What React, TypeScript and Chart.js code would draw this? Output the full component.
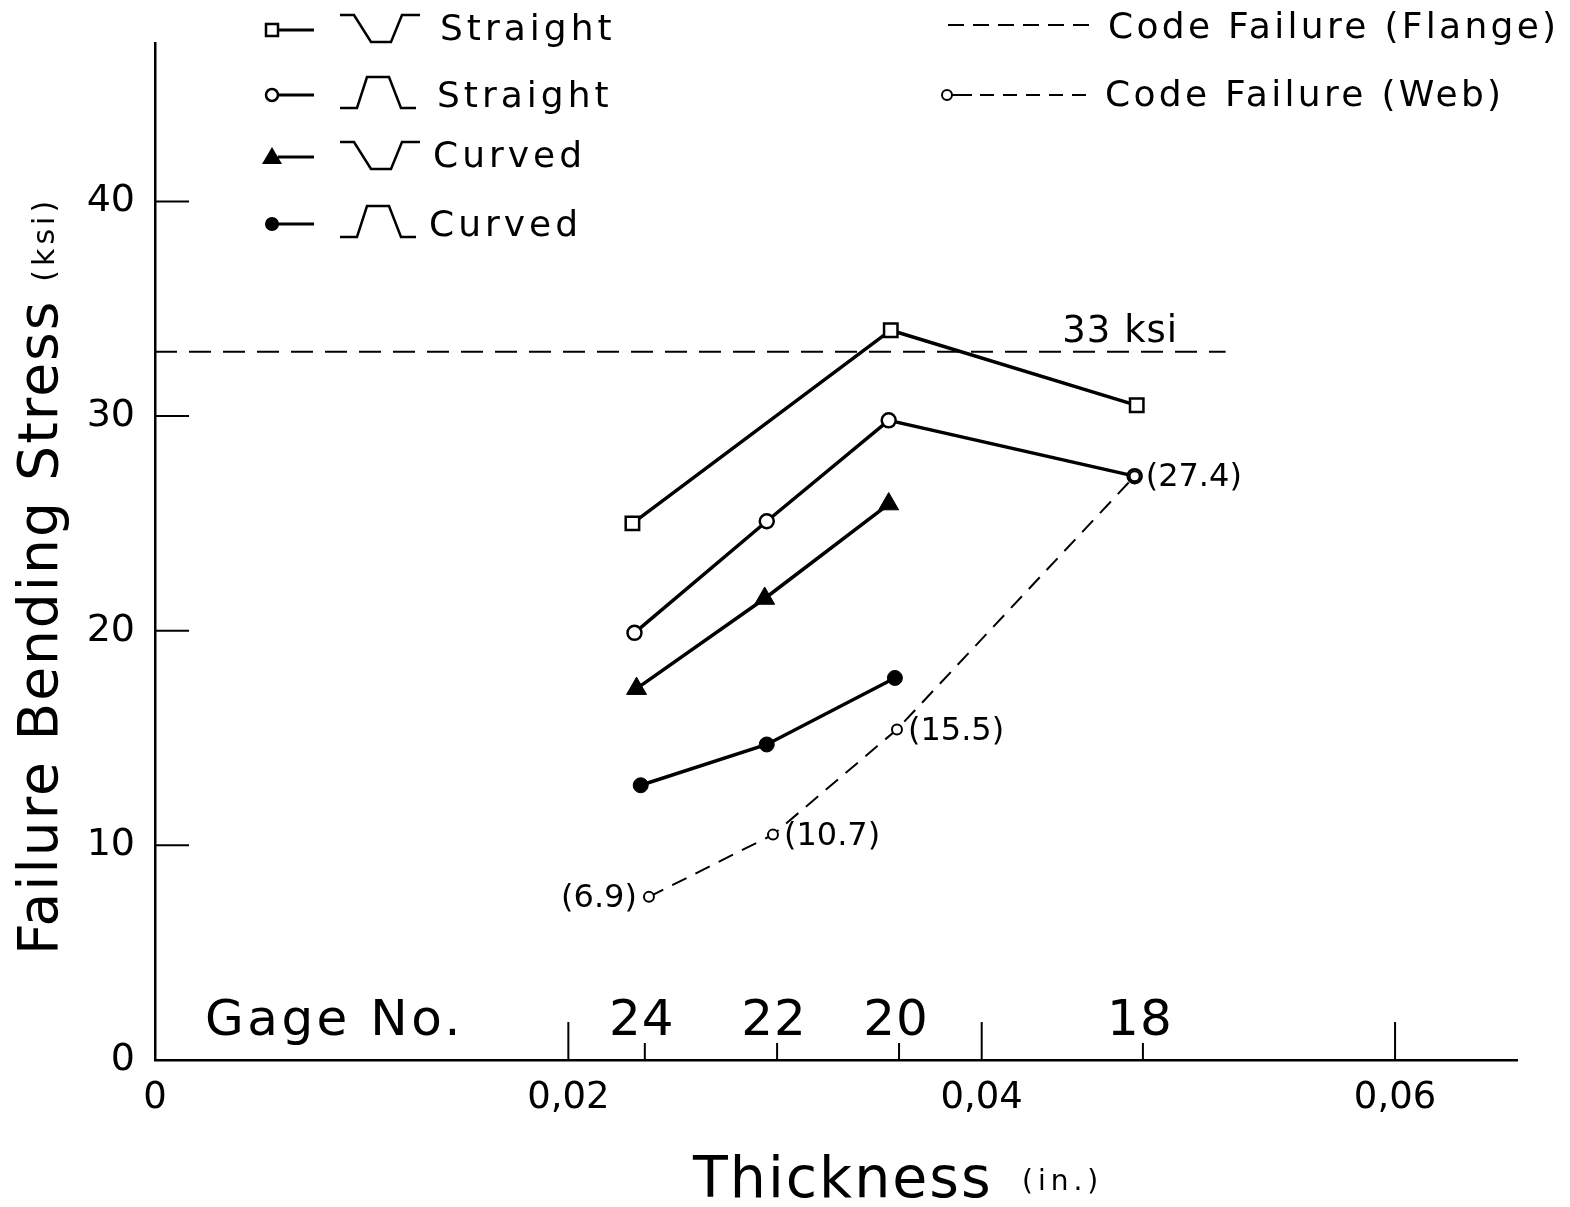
import React, { useEffect, useRef } from 'react';
import { Chart, registerables } from 'chart.js';

Chart.register(...registerables);

const FONT = '"DejaVu Sans", sans-serif';

// ---- data (thickness in inches, stress in ksi) ----
const thicknessSquare = [0.0231, 0.0356, 0.0475];
const stressSquare = [25.0, 34.0, 30.5];
const thicknessCircle = [0.0232, 0.0296, 0.0355, 0.0474];
const stressCircle = [19.9, 25.1, 29.8, 27.2];
const thicknessTriangle = [0.0233, 0.0295, 0.0355];
const stressTriangle = [17.3, 21.5, 25.9];
const thicknessDot = [0.0235, 0.0296, 0.0358];
const stressDot = [12.8, 14.7, 17.8];
const thicknessWeb = [0.0239, 0.0299, 0.0359, 0.0474];
const stressWeb = [7.6, 10.5, 15.4, 27.2];
const webLabels = ['(6.9)', '(10.7)', '(15.5)', '(27.4)'];
const webLabelSide = ['left', 'right', 'right', 'right'];
const flangeStress = 33;
const flangeRange = [0, 0.0518];
const flangeLabel = '33 ksi';
const xTicks = [0, 0.02, 0.04, 0.06];
const xTickLabels = ['0', '0,02', '0,04', '0,06'];
const yTicks = [0, 10, 20, 30, 40];
const gageThickness = [0.0237, 0.0301, 0.036, 0.0478];
const gageLabels = ['24', '22', '20', '18'];
const legendLeftLabels = ['Straight', 'Straight', 'Curved', 'Curved'];
const legendRightLabels = ['Code Failure (Flange)', 'Code Failure (Web)'];

const toPts = (xs: number[], ys: number[]) => xs.map((x, i) => ({ x, y: ys[i] }));

type Pt = [number, number];
const HAT_DOWN: Pt[] = [[0, -15], [14, -15], [31, 12], [51, 12], [62, -15], [80, -15]];
const HAT_UP: Pt[] = [[0, 13], [17, 13], [27, -18], [49, -18], [61, 13], [76, 13]];

function drawMarker(ctx: CanvasRenderingContext2D, kind: string, x: number, y: number) {
  ctx.save();
  ctx.strokeStyle = '#000';
  ctx.lineWidth = 2.5;
  ctx.beginPath();
  if (kind === 'rect') {
    ctx.fillStyle = '#fff';
    ctx.rect(x - 6, y - 6, 12, 12);
    ctx.fill();
    ctx.stroke();
  } else if (kind === 'circleOpen') {
    ctx.fillStyle = '#fff';
    ctx.arc(x, y, 6, 0, Math.PI * 2);
    ctx.fill();
    ctx.stroke();
  } else if (kind === 'triangle') {
    ctx.fillStyle = '#000';
    ctx.moveTo(x, y - 10);
    ctx.lineTo(x + 10, y + 7);
    ctx.lineTo(x - 10, y + 7);
    ctx.closePath();
    ctx.fill();
  } else {
    ctx.fillStyle = '#000';
    ctx.arc(x, y, 7, 0, Math.PI * 2);
    ctx.fill();
  }
  ctx.restore();
}

const overlayPlugin = {
  id: 'overlay',
  afterDraw(chart: any) {
    const { ctx, chartArea: a, scales } = chart;
    const xs = scales.x;
    const ys = scales.y;
    ctx.save();
    ctx.strokeStyle = '#000';
    ctx.fillStyle = '#000';
    ctx.lineCap = 'butt';
    const seg = (x1: number, y1: number, x2: number, y2: number, w: number) => {
      ctx.lineWidth = w;
      ctx.beginPath();
      ctx.moveTo(x1, y1);
      ctx.lineTo(x2, y2);
      ctx.stroke();
    };
    const text = (s: string, x: number, y: number, size: number, o: any = {}) => {
      ctx.font = `${size}px ${FONT}`;
      (ctx as any).letterSpacing = `${o.ls || 0}px`;
      ctx.textAlign = o.align || 'left';
      ctx.textBaseline = o.base || 'alphabetic';
      ctx.fillText(s, x, y);
      return ctx.measureText(s).width;
    };

    // inward y ticks
    yTicks.forEach((v) => {
      if (v <= 0) return;
      const y = ys.getPixelForValue(v);
      seg(a.left, y, a.left + 34, y, 2);
    });
    // upward x ticks
    xTicks.forEach((v) => {
      if (v <= 0) return;
      const x = xs.getPixelForValue(v);
      seg(x, a.bottom, x, a.bottom - 38, 2);
    });
    // gage ticks & labels
    gageThickness.forEach((v, i) => {
      const x = xs.getPixelForValue(v);
      seg(x, a.bottom, x, a.bottom - 17, 2);
      text(gageLabels[i], x - 3, a.bottom - 25, 50, { align: 'center', ls: 1 });
    });
    text('Gage No.', 205, a.bottom - 25, 50, { ls: 3.5 });

    // flange label
    const fy = ys.getPixelForValue(flangeStress);
    text(flangeLabel, xs.getPixelForValue(0.0439), fy - 10, 37, { ls: 1 });

    // web value labels
    webLabels.forEach((s, i) => {
      const x = xs.getPixelForValue(thicknessWeb[i]);
      const y = ys.getPixelForValue(stressWeb[i]);
      if (webLabelSide[i] === 'left') text(s, x - 12, y + 2, 32, { align: 'right', base: 'middle' });
      else text(s, x + 11, y + 2, 32, { align: 'left', base: 'middle' });
    });

    // y axis title
    ctx.save();
    ctx.translate(57, 955);
    ctx.rotate(-Math.PI / 2);
    const w = text('Failure Bending Stress', 0, 0, 55, { ls: 2 });
    text('(ksi)', w + 18, -3, 30, { ls: 4 });
    ctx.restore();

    // x axis title
    text('Thickness', 693, 1197, 57, { ls: 2 });
    text('(in.)', 1022, 1190, 28, { ls: 5 });

    // left legend
    const kinds = ['rect', 'circleOpen', 'triangle', 'dot'];
    const rowY = [30, 95, 157, 224];
    const baseY = [40, 107, 167, 236];
    const hats = [HAT_DOWN, HAT_UP, HAT_DOWN, HAT_UP];
    const textX = [440, 437, 433, 429];
    kinds.forEach((k, i) => {
      const cy = rowY[i];
      seg(278, cy, 314, cy, 3);
      drawMarker(ctx, k, 272, cy);
      ctx.lineWidth = 2.5;
      ctx.lineJoin = 'miter';
      ctx.beginPath();
      hats[i].forEach(([dx, dy], j) => {
        const px = 340 + dx;
        const py = cy + dy;
        if (j === 0) ctx.moveTo(px, py);
        else ctx.lineTo(px, py);
      });
      ctx.stroke();
      text(legendLeftLabels[i], textX[i], baseY[i], 36, { ls: 4 });
    });

    // right legend
    ctx.setLineDash([16, 9]);
    seg(948, 25, 1092, 25, 2);
    ctx.setLineDash([]);
    text(legendRightLabels[0], 1108, 38, 36, { ls: 3.3 });
    seg(952, 95, 972, 95, 2);
    ctx.setLineDash([14, 9]);
    seg(980, 95, 1090, 95, 2);
    ctx.setLineDash([]);
    ctx.lineWidth = 2;
    ctx.fillStyle = '#fff';
    ctx.beginPath();
    ctx.arc(947, 95, 5, 0, Math.PI * 2);
    ctx.fill();
    ctx.stroke();
    ctx.fillStyle = '#000';
    text(legendRightLabels[1], 1105, 106, 36, { ls: 3.3 });

    ctx.restore();
  },
};

export default function App() {
  const ref = useRef<HTMLCanvasElement>(null);
  useEffect(() => {
    document.body.style.margin = '0';
    Chart.defaults.font.family = FONT;
    Chart.defaults.color = '#000';
    const chart = new Chart(ref.current as HTMLCanvasElement, {
      type: 'line',
      data: {
        datasets: [
          {
            label: legendRightLabels[0],
            data: [{ x: flangeRange[0], y: flangeStress }, { x: flangeRange[1], y: flangeStress }],
            borderColor: '#000',
            borderWidth: 2,
            borderDash: [22, 12],
            pointRadius: 0,
          },
          {
            label: legendRightLabels[1],
            data: toPts(thicknessWeb, stressWeb),
            borderColor: '#000',
            borderWidth: 2,
            borderDash: [16, 10],
            pointStyle: 'circle',
            pointRadius: 5,
            pointBackgroundColor: '#fff',
            pointBorderColor: '#000',
            pointBorderWidth: 2,
          },
          {
            label: 'Straight (inverted hat)',
            data: toPts(thicknessSquare, stressSquare),
            borderColor: '#000',
            borderWidth: 3.5,
            pointStyle: 'rect',
            pointRadius: 9.5,
            pointBackgroundColor: '#fff',
            pointBorderColor: '#000',
            pointBorderWidth: 2.5,
          },
          {
            label: 'Straight (hat)',
            data: toPts(thicknessCircle, stressCircle),
            borderColor: '#000',
            borderWidth: 3.5,
            pointStyle: 'circle',
            pointRadius: 7,
            pointBackgroundColor: '#fff',
            pointBorderColor: '#000',
            pointBorderWidth: 2.5,
          },
          {
            label: 'Curved (inverted hat)',
            data: toPts(thicknessTriangle, stressTriangle),
            borderColor: '#000',
            borderWidth: 3.5,
            pointStyle: 'triangle',
            pointRadius: 11.5,
            pointBackgroundColor: '#000',
            pointBorderColor: '#000',
            pointBorderWidth: 1,
          },
          {
            label: 'Curved (hat)',
            data: toPts(thicknessDot, stressDot),
            borderColor: '#000',
            borderWidth: 3.5,
            pointStyle: 'circle',
            pointRadius: 7.5,
            pointBackgroundColor: '#000',
            pointBorderColor: '#000',
            pointBorderWidth: 1,
          },
        ],
      },
      options: {
        animation: false,
        responsive: false,
        devicePixelRatio: 1,
        layout: { padding: { left: 0, right: 53, top: 40, bottom: 0 } },
        plugins: { legend: { display: false }, tooltip: { enabled: false }, title: { display: false } },
        elements: { line: { tension: 0 } },
        scales: {
          x: {
            type: 'linear',
            min: 0,
            max: 0.0659,
            afterBuildTicks: (s: any) => {
              s.ticks = xTicks.map((v) => ({ value: v }));
            },
            afterFit: (s: any) => {
              s.height = 147;
            },
            ticks: {
              autoSkip: false,
              maxRotation: 0,
              padding: 16,
              color: '#000',
              font: { size: 37, family: FONT },
              callback: (v: any) => xTickLabels[xTicks.indexOf(Number(v))] ?? '',
            },
            grid: { display: true, drawOnChartArea: false, drawTicks: false },
            border: { display: true, color: '#000', width: 2.5 },
          },
          y: {
            type: 'linear',
            min: 0,
            max: 47.39,
            afterBuildTicks: (s: any) => {
              s.ticks = yTicks.map((v) => ({ value: v }));
            },
            afterFit: (s: any) => {
              s.width = 155;
            },
            ticks: {
              autoSkip: false,
              padding: 20,
              color: '#000',
              font: { size: 38, family: FONT },
              callback: (v: any) => String(v),
            },
            grid: { display: true, drawOnChartArea: false, drawTicks: false },
            border: { display: true, color: '#000', width: 2.5 },
          },
        },
      },
      plugins: [overlayPlugin],
    } as any);
    return () => chart.destroy();
  }, []);
  return (
    <canvas
      ref={ref}
      width={1570}
      height={1207}
      style={{ display: 'block', width: 1570, height: 1207 }}
    />
  );
}
